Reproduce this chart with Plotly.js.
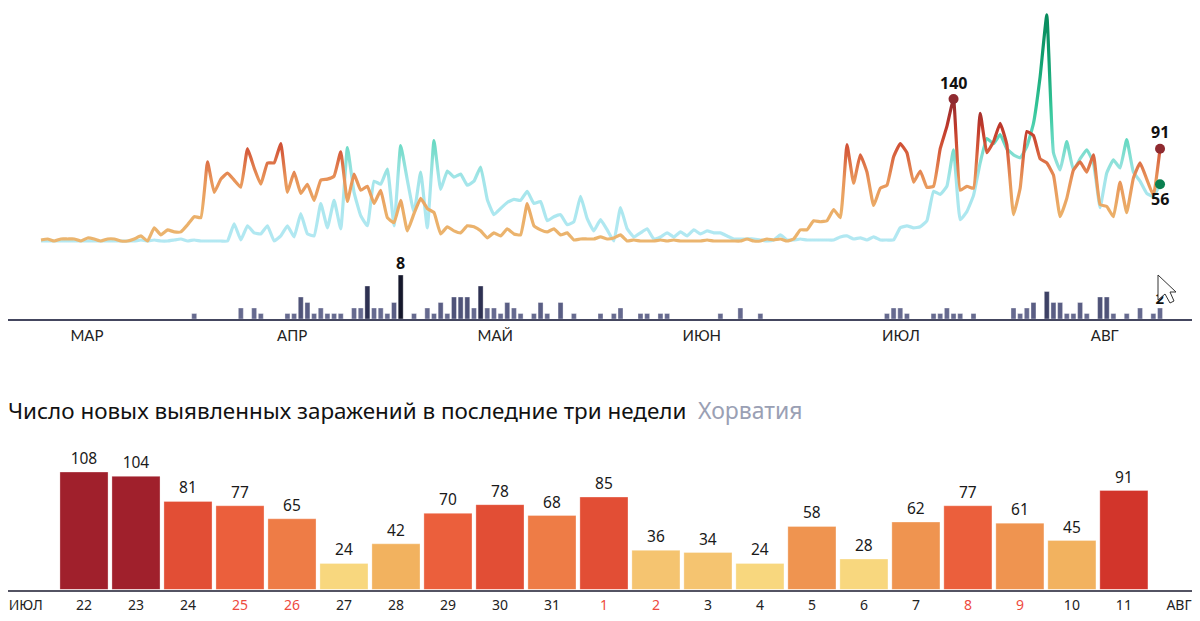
<!DOCTYPE html>
<html>
<head>
<meta charset="utf-8">
<script src="https://cdn.plot.ly/plotly-3.0.1.min.js"></script>
<style>
  html, body { margin: 0; padding: 0; background: #fff; }
  #chart { width: 1200px; height: 621px; }
</style>
</head>
<body>
<div id="chart"></div>
<script>
// daily new cases, starts 25 Feb, last point is 11 Aug
let newCases = [1,2,0,2,2,2,0,3,2,0,2,2,0,0,2,5,0,13,6,11,9,9,16,24,23,78,48,61,67,60,
  53,91,72,56,77,77,96,48,68,47,56,40,60,61,64,88,39,66,50,54,37,50,23,18,40,10,27,42,32,28,
  7,14,10,8,15,14,10,3,8,5,12,7,6,37,15,11,9,12,6,8,1,2,2,2,4,2,3,6,0,1,
  0,0,0,1,0,1,0,0,0,0,1,0,0,0,0,0,2,0,0,2,1,2,0,2,11,11,20,19,20,31,
  23,95,57,85,68,35,52,55,83,96,87,58,69,53,54,91,113,140,50,54,52,126,87,98,116,95,26,52,
  108,104,81,77,65,24,42,70,78,68,85,36,34,24,58,28,62,77,61,45,91];

// daily recoveries
let recovered = [0,0,0,0,0,0,0,0,0,0,0,0,0,0,0,1,0,1,0,0,1,2,0,1,0,0,0,0,0,17,
  1,15,8,7,15,0,5,15,4,27,7,5,37,13,40,12,92,48,25,15,59,56,71,15,94,60,28,68,13,99,
  51,69,63,66,55,59,73,41,26,32,38,41,40,49,37,39,20,24,26,16,19,44,22,10,21,11,0,33,12,4,
  8,12,2,4,8,4,9,5,11,7,10,8,8,5,2,2,2,2,1,0,1,6,1,1,2,1,1,1,1,1,
  4,5,2,3,1,4,1,1,1,13,15,13,14,20,49,46,54,90,21,29,45,77,101,96,105,91,85,82,
  93,116,162,223,87,70,98,70,81,90,77,33,67,80,72,100,68,59,47,44,56];

// daily deaths, only the days that had any
let deathDays = [23,30,32,33,37,38,39,40,41,42,43,44,45,47,48,49,50,51,52,53,54,56,58,59,60,61,62,63,64,65,
  66,67,68,69,70,71,72,74,75,76,78,80,84,86,87,90,91,93,94,102,105,108,127,128,129,130,134,135,136,137,
  138,140,146,147,148,149,151,152,153,154,155,156,157,159,160,161,163,165,167,168];
let deaths = [1,2,2,1,1,1,4,3,1,2,1,1,1,2,2,6,2,2,1,3,8,1,2,1,3,1,4,4,4,2,
  6,2,2,1,3,2,1,1,3,1,3,1,1,1,2,1,1,1,1,1,2,1,1,2,2,1,1,1,2,1,
  1,1,2,1,2,3,5,3,3,1,1,3,1,4,4,1,1,2,1,2];

let monthLabels = ['МАР', 'АПР', 'МАЙ', 'ИЮН', 'ИЮЛ', 'АВГ'];
let monthTicks = [6.9, 37.7, 68.2, 99.2, 129.1, 159.7];

// last three weeks
let recentDays = ['22','23','24','25','26','27','28','29','30','31','1','2','3','4','5','6','7','8','9','10','11'];
let recentValues = [108,104,81,77,65,24,42,70,78,68,85,36,34,24,58,28,62,77,61,45,91];
let weekendDays = ['25','26','1','2','8','9'];

let dayIndex = newCases.map((v, i) => i);
let recentIndex = recentDays.map((v, i) => i);

// page pixels to paper fractions, the margins are all zero
const W = 1200, H = 621;
const px = v => v / W;
const py = v => 1 - v / H;

function barColor(v) {
  if (v >= 100) return '#a0202c';
  if (v >= 90) return '#d2352b';
  if (v >= 78) return '#e24e35';
  if (v >= 70) return '#eb5f3c';
  if (v >= 65) return '#ee7c46';
  if (v >= 50) return '#ef9450';
  if (v >= 40) return '#f2b25f';
  if (v >= 30) return '#f5c470';
  return '#f8d77e';
}

function deathColor(v) {
  if (v >= 8) return '#15172b';
  if (v >= 6) return '#2e3152';
  if (v >= 5) return '#3d4165';
  if (v >= 4) return '#4f5378';
  if (v >= 3) return '#5a5e84';
  return '#666a8f';
}

let data = [
  {
    x: dayIndex, y: recovered, type: 'scatter', mode: 'lines',
    line: {color: '#7fdcd0', width: 3.2, shape: 'spline', smoothing: 0.35},
    xaxis: 'x', yaxis: 'y', hoverinfo: 'skip'
  },
  {
    x: dayIndex, y: newCases, type: 'scatter', mode: 'lines',
    line: {color: '#e5824e', width: 3.2, shape: 'spline', smoothing: 0.35},
    xaxis: 'x', yaxis: 'y', hoverinfo: 'skip'
  },
  // end and peak points
  {
    x: [137, 168], y: [newCases[137], newCases[168]],
    type: 'scatter', mode: 'markers', marker: {color: '#8f2a30', size: 10},
    cliponaxis: false, xaxis: 'x', yaxis: 'y', hoverinfo: 'skip'
  },
  {
    x: [168], y: [recovered[168]],
    type: 'scatter', mode: 'markers', marker: {color: '#0a8050', size: 10},
    cliponaxis: false, xaxis: 'x', yaxis: 'y', hoverinfo: 'skip'
  },
  {
    x: deathDays, y: deaths, type: 'bar', width: 0.75,
    marker: {color: deaths.map(deathColor), line: {color: 'rgba(255,255,255,0.35)', width: 1}},
    // the last day's label sits under the mouse pointer, so it stays below the shape
    text: deathDays.map((d, i) => d === 168 ? '<b>' + deaths[i] + '</b>' : ''),
    textposition: 'outside', cliponaxis: false, constraintext: 'none',
    textfont: {family: 'Noto Sans', size: 15, color: '#111'},
    xaxis: 'x', yaxis: 'y2', hoverinfo: 'skip'
  },
  {
    x: recentIndex, y: recentValues, type: 'bar', width: 0.925,
    marker: {color: recentValues.map(barColor), line: {color: 'rgba(255,255,255,0.3)', width: 1}},
    text: recentValues.map(String), textposition: 'outside', cliponaxis: false,
    constraintext: 'none',
    textfont: {family: 'Noto Sans', size: 15.5, color: '#1a1a1a'},
    xaxis: 'x2', yaxis: 'y3', hoverinfo: 'skip'
  }
];

let pointLabel = (x, y, yref, text, yshift) => ({
  x: x, y: y, xref: 'x', yref: yref, text: '<b>' + text + '</b>',
  showarrow: false, yshift: yshift,
  font: {family: 'Noto Sans', size: 16, color: '#111'}
});

let layout = {
  width: W, height: H,
  margin: {l: 0, r: 0, t: 0, b: 0, pad: 0},
  paper_bgcolor: '#fff', plot_bgcolor: 'rgba(0,0,0,0)',
  showlegend: false,
  bargap: 0,
  title: {
    text: 'Число новых выявленных заражений в последние три недели  <span style="color:#9aa0b4;font-size:23px">Хорватия</span>',
    x: px(8), xanchor: 'left', xref: 'paper',
    y: py(411), yanchor: 'middle', yref: 'paper',
    font: {family: 'Noto Sans', size: 22.43, color: '#111'}
  },
  xaxis: {
    domain: [px(8), px(1192)], range: [-4.954, 172.8], anchor: 'y2',
    tickmode: 'array', tickvals: monthTicks, ticktext: monthLabels,
    showgrid: false, zeroline: false, ticks: '', ticklabelstandoff: 2,
    showline: true, linecolor: '#44465f', linewidth: 2,
    tickfont: {family: 'Lato', size: 15, color: '#222'}
  },
  yaxis: {domain: [py(245), py(10)], range: [-3.94, 227.8], visible: false},
  yaxis2: {domain: [py(319), py(269)], range: [0, 9.09], visible: false},
  xaxis2: {
    domain: [px(8), px(1192)], range: [-1.4615, 21.31], anchor: 'y3',
    tickmode: 'array',
    tickvals: [-1.12].concat(recentIndex, [21.06]),
    ticktext: ['ИЮЛ'].concat(recentDays.map(d =>
      weekendDays.includes(d) ? '<span style="color:#ee4a3e">' + d + '</span>' : d), ['АВГ']),
    showgrid: false, zeroline: false, ticks: '', ticklabelstandoff: 2,
    showline: true, linecolor: 'rgba(40,40,60,0.8)', linewidth: 2,
    tickfont: {family: 'Noto Sans', size: 14, color: '#222'}
  },
  yaxis3: {domain: [py(589.5), py(449.5)], range: [0, 128.7], visible: false},
  annotations: [
    pointLabel(137, newCases[137], 'y', '140', 16),
    pointLabel(168, newCases[168], 'y', '91', 17),
    pointLabel(168, recovered[168], 'y', '56', -15),
    pointLabel(54, 8, 'y2', '8', 12)
  ],
  shapes: [{
    type: 'path', xref: 'paper', yref: 'paper', layer: 'above',
    path: 'M' + [[1158,275],[1158,300],[1165,294],[1170,303],[1174,301],[1170,292],[1176,292]]
      .map(p => px(p[0]) + ',' + py(p[1])).join(' L') + ' Z',
    fillcolor: '#fff', line: {color: '#333', width: 1}
  }]
};

// vertical colour ramps for the two lines, top of the bounding box first
let recoveredRamp = [[0,'#078a5c'],[0.2,'#12a070'],[0.42,'#35c79a'],[0.55,'#63d8c0'],[0.64,'#8ae0d6'],[0.73,'#a4e5ea'],[0.87,'#ace7ef'],[1,'#b3e8f2']];
let casesRamp = [[0,'#8f2a30'],[0.2,'#c0392b'],[0.36,'#d55a3a'],[0.57,'#e8955a'],[0.79,'#ebae68'],[1,'#ebb56f']];

function addRamp(gd, traceNo, id, ramp) {
  let svg = gd.querySelector('.main-svg');
  let defs = svg.querySelector('defs');
  let ns = 'http://www.w3.org/2000/svg';
  let grad = document.createElementNS(ns, 'linearGradient');
  grad.setAttribute('id', id);
  grad.setAttribute('x1', '0'); grad.setAttribute('y1', '0');
  grad.setAttribute('x2', '0'); grad.setAttribute('y2', '1');
  ramp.forEach(s => {
    let stop = document.createElementNS(ns, 'stop');
    stop.setAttribute('offset', s[0]);
    stop.setAttribute('stop-color', s[1]);
    grad.appendChild(stop);
  });
  defs.appendChild(grad);
  let path = gd.querySelectorAll('.scatterlayer .trace')[traceNo].querySelector('path.js-line');
  path.style.stroke = 'url(#' + id + ')';
}

Plotly.newPlot('chart', data, layout, {staticPlot: true}).then(gd => {
  addRamp(gd, 0, 'rampRecovered', recoveredRamp);
  addRamp(gd, 1, 'rampCases', casesRamp);
});
</script>
</body>
</html>
